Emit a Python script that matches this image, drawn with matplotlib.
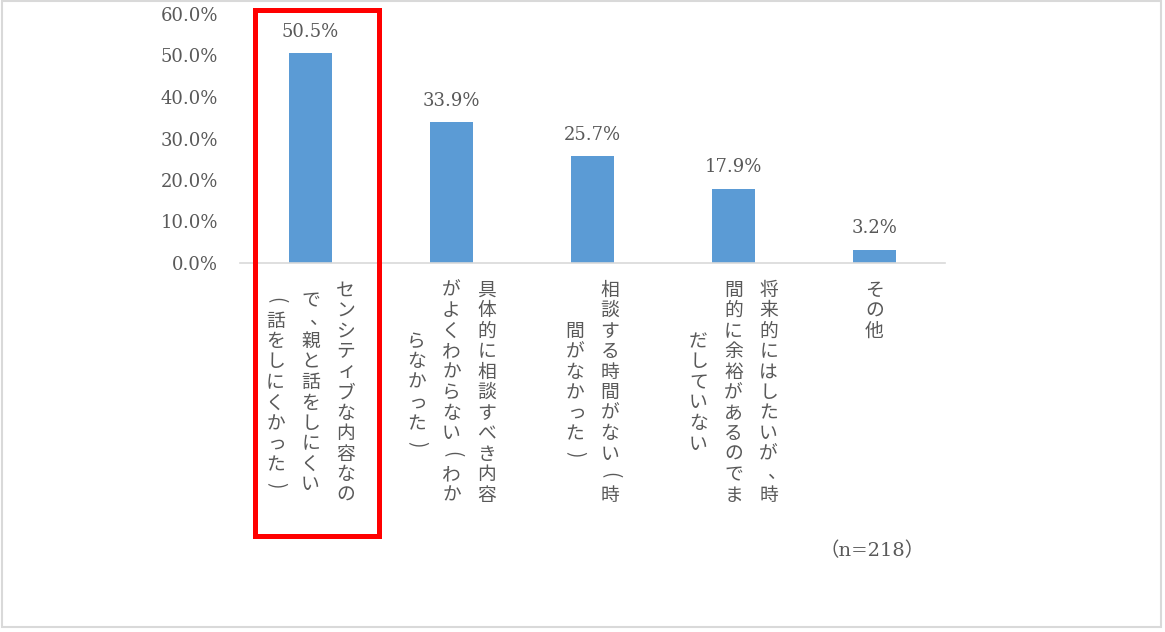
import matplotlib
matplotlib.use("Agg")
import matplotlib.pyplot as plt
from matplotlib.patches import Rectangle

# ---- data ----
categories = [
    ["センシティブな内容なの", "で、親と話をしにくい", "（話をしにくかった）"],
    ["具体的に相談すべき内容", "がよくわからない（わか", "らなかった）"],
    ["相談する時間がない（時", "間がなかった）"],
    ["将来的にはしたいが、時", "間的に余裕があるのでま", "だしていない"],
    ["その他"],
]
values = [50.5, 33.9, 25.7, 17.9, 3.2]
yticks = [0, 10, 20, 30, 40, 50, 60]
note = "（n=218）"

W, H = 1165, 632
TEXT = "#595959"
BAR = "#5B9BD5"
SERIF = ["DejaVu Serif", "Noto Sans CJK JP"]
JP = ["Noto Sans CJK JP", "DejaVu Sans"]

fig = plt.figure(figsize=(W / 100, H / 100), dpi=100)
fig.patch.set_facecolor("white")

ax = fig.add_axes([240 / W, 1 - 263 / H, 705 / W, 249 / H])
x = list(range(len(values)))
ax.bar(x, values, width=0.31, color=BAR, zorder=2)
ax.set_xlim(-0.5, len(values) - 0.5)
ax.set_ylim(0, 60)
ax.set_yticks(yticks)
ax.set_yticklabels([f"{v:.1f}%" for v in yticks], family=SERIF, fontsize=13, color=TEXT)
ax.set_xticks([])
ax.tick_params(axis="y", length=0, pad=16)
for s in ["left", "right", "top"]:
    ax.spines[s].set_visible(False)
ax.spines["bottom"].set_color("#D9D9D9")
ax.spines["bottom"].set_linewidth(1.2)

for xi, v in zip(x, values):
    ax.annotate(f"{v:.1f}%", (xi, v), xytext=(0, 9), textcoords="offset points",
                ha="center", va="bottom", family=SERIF, fontsize=13, color=TEXT)

# ---- vertical (tategaki) category labels ----
fig.canvas.draw()
pitch = 20.5      # px per character
colgap = 35.0     # px between columns
top_px = 280.0    # px from top of figure
fs = 13.5

def fig_frac(px, py_from_top):
    return px / W, (H - py_from_top) / H

for i, cols in enumerate(categories):
    xc = ax.transData.transform((i, 0))[0]
    ncol = len(cols)
    maxlen = max(len(c) for c in cols)
    for k, col in enumerate(cols):
        cx = xc + (ncol - 1) / 2 * colgap - k * colgap
        off = (maxlen - len(col)) / 2 * pitch
        for j, ch in enumerate(col):
            cy = top_px + off + (j + 0.5) * pitch
            rot = 0
            dx, dy = 0, 0
            draw = ch
            if ch == "（":
                draw, rot = "(", -90
            elif ch == "）":
                draw, rot = ")", -90
            elif ch in "、。":
                dx, dy = 0.4 * pitch, -0.12 * pitch
            elif ch in "ィっッゃ":
                dx, dy = 0.1 * pitch, -0.05 * pitch
            fx, fy = fig_frac(cx + dx, cy + dy)
            fig.text(fx, fy, draw, ha="center", va="center", rotation=rot,
                     rotation_mode="anchor", family=JP, fontsize=fs, color=TEXT)

# note
fx, fy = fig_frac(872, 551)
fig.text(fx, fy, note, ha="center", va="center", family=SERIF, fontsize=14, color=TEXT)

# red highlight box around the first category
fig.patches.append(Rectangle((254.5 / W, 1 - 535.5 / H), (378.5 - 254.5) / W, (535.5 - 9.5) / H,
                             transform=fig.transFigure, fill=False, edgecolor="#FF0000",
                             linewidth=3.6, zorder=5))
# outer light frame
fig.patches.append(Rectangle((1.5 / W, 1 - 626.5 / H), (1160.5 - 1.5) / W, (626.5 - 0.5) / H,
                             transform=fig.transFigure, fill=False, edgecolor="#D9D9D9",
                             linewidth=1.5, zorder=0))

fig.savefig("out.png", dpi=100, facecolor="white")
